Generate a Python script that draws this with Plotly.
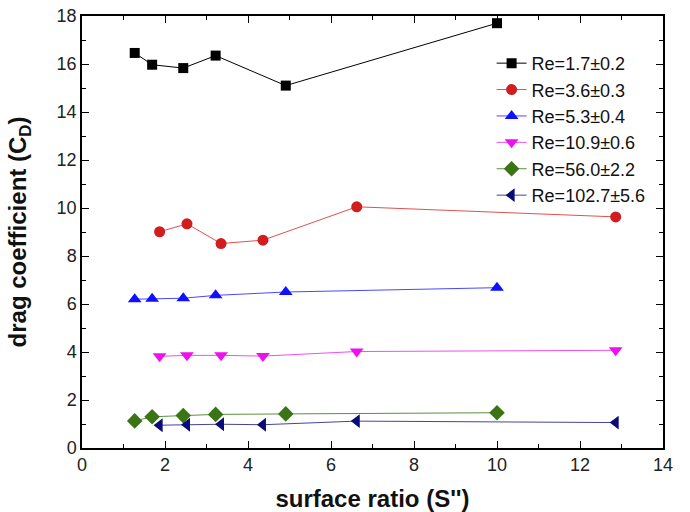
import plotly.graph_objects as go

x_a = [1.27, 1.69, 2.44, 3.22, 4.91, 10.0]
x_b = [1.87, 2.53, 3.35, 4.36, 6.62, 12.86]

re17 = [16.46, 15.97, 15.83, 16.35, 15.10, 17.70]
re36 = [9.01, 9.34, 8.52, 8.66, 10.05, 9.63]
re53 = [6.20, 6.22, 6.24, 6.36, 6.50, 6.68]
re109 = [3.82, 3.86, 3.86, 3.83, 4.02, 4.07]
re560 = [1.13, 1.30, 1.35, 1.40, 1.42, 1.47]
re1027 = [0.95, 0.97, 0.99, 0.97, 1.12, 1.06]

names = ["Re=1.7±0.2", "Re=3.6±0.3", "Re=5.3±0.4", "Re=10.9±0.6", "Re=56.0±2.2", "Re=102.7±5.6"]

series = [
    (x_a, re17, names[0], "#000000", "#000000", "square", 10),
    (x_b, re36, names[1], "#d11d1d", "#e05050", "circle", 11),
    (x_a, re53, names[2], "#1010ff", "#4848ff", "triangle-up", 12),
    (x_b, re109, names[3], "#ee10ee", "#ee50ee", "triangle-down", 12),
    (x_a, re560, names[4], "#3b7415", "#5a9040", "diamond", 12),
    (x_b, re1027, names[5], "#0a0a78", "#44449a", "triangle-left", 12),
]

fig = go.Figure()
for xs, ys, nm, mc, lc, sym, sz in series:
    fig.add_trace(go.Scatter(
        x=xs, y=ys, name=nm, mode="lines+markers",
        line=dict(color=lc, width=1),
        marker=dict(color=mc, symbol=sym, size=sz, line=dict(width=0)),
    ))

axis_common = dict(
    showline=True, linecolor="black", linewidth=1.5, mirror="ticks",
    ticks="inside", ticklen=7, tickwidth=1.2, tickcolor="black",
    showgrid=False, zeroline=False, automargin=False,
    tickfont=dict(family="Liberation Sans, Arial", size=18, color="#222"),
)

fig.update_layout(
    width=690, height=512,
    margin=dict(l=82, r=27, t=16, b=64),
    paper_bgcolor="white", plot_bgcolor="white",
    xaxis=dict(range=[0, 14], dtick=2, tick0=0,
               minor=dict(ticks="inside", dtick=1, ticklen=4, tickcolor="black"),
               title=dict(text="surface ratio (S'')", standoff=17,
                          font=dict(family="Liberation Sans, Arial", size=24, color="#111", weight="bold")),
               **axis_common),
    yaxis=dict(range=[0, 18], dtick=2, tick0=0,
               minor=dict(ticks="inside", dtick=1, ticklen=4, tickcolor="black"),
               title=dict(text="drag coefficient (C<sub>D</sub>)", standoff=23,
                          font=dict(family="Liberation Sans, Arial", size=24, color="#111", weight="bold")),
               **axis_common),
    legend=dict(x=0.705, y=0.933, xanchor="left", yanchor="top",
                bgcolor="rgba(0,0,0,0)", borderwidth=0,
                font=dict(family="Liberation Sans, Arial", size=18, color="#111"),
                tracegroupgap=0),
    showlegend=True,
)

fig.write_html("out.html")
